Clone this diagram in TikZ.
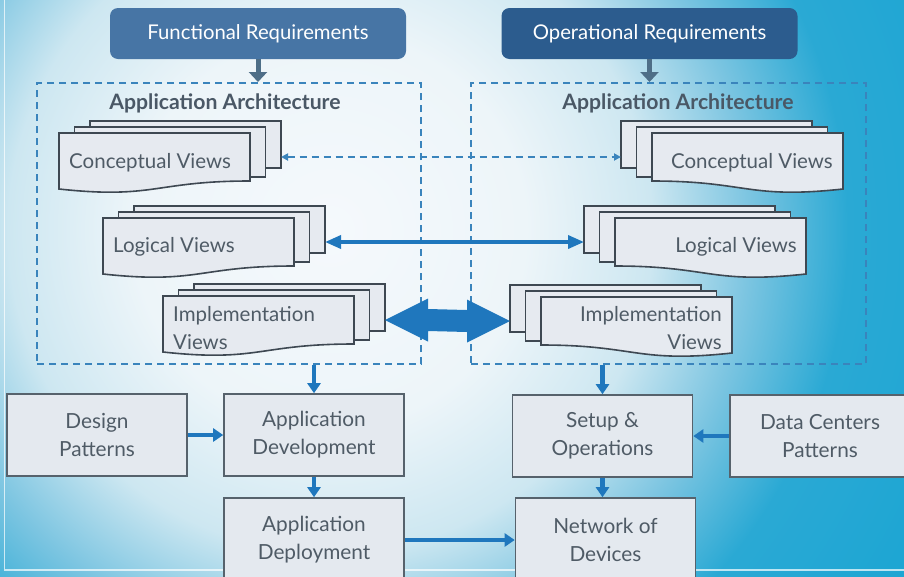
\documentclass[tikz,border=0pt]{standalone}
\usepackage{fontspec}
\setmainfont{Lato}
\usetikzlibrary{arrows.meta,calc}

\definecolor{bgA}{HTML}{F5F9FC}
\definecolor{bgB}{HTML}{EDF5F9}
\definecolor{bgC}{HTML}{CDE7F1}
\definecolor{bgD}{HTML}{7CC5E1}
\definecolor{bgE}{HTML}{2AA9D4}
\definecolor{bgF}{HTML}{1AA5D3}
\definecolor{reqA}{HTML}{4775A5}
\definecolor{reqB}{HTML}{2C5C8E}
\definecolor{reqarrowc}{HTML}{4E6E87}
\definecolor{dashc}{HTML}{3A84BC}
\definecolor{flowc}{HTML}{1F77BD}
\definecolor{sheetfill}{HTML}{E6EAF0}
\definecolor{sheetline}{HTML}{3E4852}
\definecolor{boxfill}{HTML}{E4E9EF}
\definecolor{boxline}{HTML}{56626C}
\definecolor{textc}{HTML}{4F5B66}
\definecolor{titlec}{HTML}{4A5866}

\pgfdeclareradialshading{slidebg}{\pgfpoint{0bp}{0bp}}{%
  color(0bp)=(bgA); color(7bp)=(bgB); color(11.5bp)=(bgC);
  color(15bp)=(bgD); color(18.5bp)=(bgE); color(25bp)=(bgF); color(50bp)=(bgF)}

% stack of three sheets, back sheets to the right; #1 name, #2/#3 front sheet corner
\newcommand{\stackL}[3]{%
  \draw[sheet] ({#2+31},{#3-12}) rectangle ++(191,47);
  \draw[sheet] ({#2+15.5},{#3-6}) rectangle ++(191,50);
  \draw[sheet] (#2,#3) -- ({#2+191},#3) -- ({#2+191},{#3+48})
     .. controls ({#2+95.5},{#3+48}) and ({#2+95.5},{#3+66.4}) .. (#2,{#3+56}) -- cycle;
  \coordinate (#1-e) at ({#2+222},{#3+24});
}
% mirrored stack, back sheets to the left
\newcommand{\stackR}[3]{%
  \draw[sheet] ({#2-31},{#3-12}) rectangle ++(191,47);
  \draw[sheet] ({#2-15.5},{#3-6}) rectangle ++(191,50);
  \draw[sheet] (#2,#3) -- ({#2+191},#3) -- ({#2+191},{#3+56})
     .. controls ({#2+95.5},{#3+66.4}) and ({#2+95.5},{#3+48}) .. (#2,{#3+48}) -- cycle;
  \coordinate (#1-w) at ({#2-31},{#3+24});
}

\begin{document}
\begin{tikzpicture}[x=1pt,y=-1pt,
  sheet/.style={fill=sheetfill, draw=sheetline, line width=1.6pt, line join=miter},
  sheettext/.style={text=textc, inner sep=0pt, font=\fontsize{20.5}{28}\selectfont},
  reqbox/.style={rounded corners=8pt, text=white, minimum height=51pt,
     minimum width=296pt, font=\fontsize{20.3}{24}\selectfont},
  reqarrow/.style={draw=reqarrowc, line width=5pt, -{Triangle[length=10pt,width=18pt]}},
  archbox/.style={draw=dashc, line width=2pt, dash pattern=on 7pt off 5pt,
     minimum height=281pt, inner sep=0pt},
  archtitle/.style={text=titlec, font=\fontsize{21.2}{24}\selectfont\bfseries},
  flowbox/.style={fill=boxfill, draw=boxline, line width=1.6pt, text=textc,
     minimum width=180pt, minimum height=82pt, align=center,
     font=\fontsize{20.8}{28}\selectfont},
  flowarrow/.style={draw=flowc, line width=4.5pt, -{Triangle[length=10pt,width=13pt]}},
  logarrow/.style={draw=flowc, line width=3.5pt,
     {Triangle[length=16pt,width=13pt]}-{Triangle[length=16pt,width=13pt]}},
  dasharrow/.style={draw=dashc, line width=1.8pt, dash pattern=on 7pt off 5pt,
     {Triangle[length=7pt,width=7pt]}-{Triangle[length=7pt,width=7pt]}},
]
\useasboundingbox (0,0) rectangle (904,576);

% slide background
\begin{scope}
  \clip (0,0) rectangle (904,576);
  \fill[bgF] (0,0) rectangle (904,576);
  \shade[shading=slidebg] (330,230) circle (700);
\end{scope}
\draw[white, opacity=0.7, line width=1.6pt] (4.5,0) -- (4.5,570) -- (904,570);

% requirement headers
\node[reqbox, fill=reqA] (freq) at (258,33.5) {Functional Requirements};
\node[reqbox, fill=reqB] (oreq) at (649.5,33.5) {Operational Requirements};

% architecture frames
\node[archbox, minimum width=384pt] (larch) at (229,223.5) {};
\node[archbox, minimum width=395pt] (rarch) at (668.5,223.5) {};
\node[archtitle] (ltitle) at (225,103) {Application Architecture};
\node[archtitle] (rtitle) at (678,103) {Application Architecture};

\draw[reqarrow] (freq.south) -- (freq.south |- larch.north);
\draw[reqarrow] (oreq.south) -- (oreq.south |- rarch.north);

% view stacks
\stackL{lcon}{59}{133}
\stackL{llog}{103}{218}
\stackL{limp}{163}{296}
\stackR{rcon}{652}{133}
\stackR{rlog}{615}{218}
\stackR{rimp}{541}{297}

\node[sheettext, anchor=west] (lcont) at (69,163) {Conceptual Views};
\node[sheettext, anchor=west] (llogt) at (113,247) {Logical Views};
\node[sheettext, anchor=west, align=left] (limpt) at (173,328) {Implementation\\Views};
\node[sheettext, anchor=east] (rcont) at (833,163) {Conceptual Views};
\node[sheettext, anchor=east] (rlogt) at (797,247) {Logical Views};
\node[sheettext, anchor=east, align=right] (rimpt) at (722,328) {Implementation\\Views};

% links between the two architectures
\draw[dasharrow] (lcon-e) -- (rcon-w);
\draw[logarrow] (llog-e) -- (rlog-w);
\fill[flowc] (limp-e) -- ++(43,-21.5) -- ++(0,10.5) -- ($(rimp-w)+(-43,-11)$)
  -- ++(0,-10.5) -- (rimp-w) -- ++(-43,21.5) -- ++(0,-10.5)
  -- ($(limp-e)+(43,11)$) -- ++(0,10.5) -- cycle;

% development and operations flow
\node[flowbox] (dp) at (97,435) {Design\\Patterns};
\node[flowbox] (adev) at (314,435) {Application\\Development};
\node[flowbox, minimum height=84pt] (adep) at (314,540) {Application\\Deployment};
\node[flowbox] (setup) at (602.5,436) {Setup \&\\Operations};
\node[flowbox] (dcp) at (820,436) {Data Centers\\Patterns};
\node[flowbox, minimum height=84pt] (net) at (605.5,540) {Network of\\Devices};

\draw[flowarrow] (larch.south -| adev.north) -- (adev.north);
\draw[flowarrow] (dp) -- (adev);
\draw[flowarrow] (adev) -- (adep);
\draw[flowarrow] (adep) -- (net);
\draw[flowarrow] (rarch.south -| setup.north) -- (setup.north);
\draw[flowarrow] (dcp) -- (setup);
\draw[flowarrow] (setup.south) -- (setup.south |- net.north);
\end{tikzpicture}
\end{document}
